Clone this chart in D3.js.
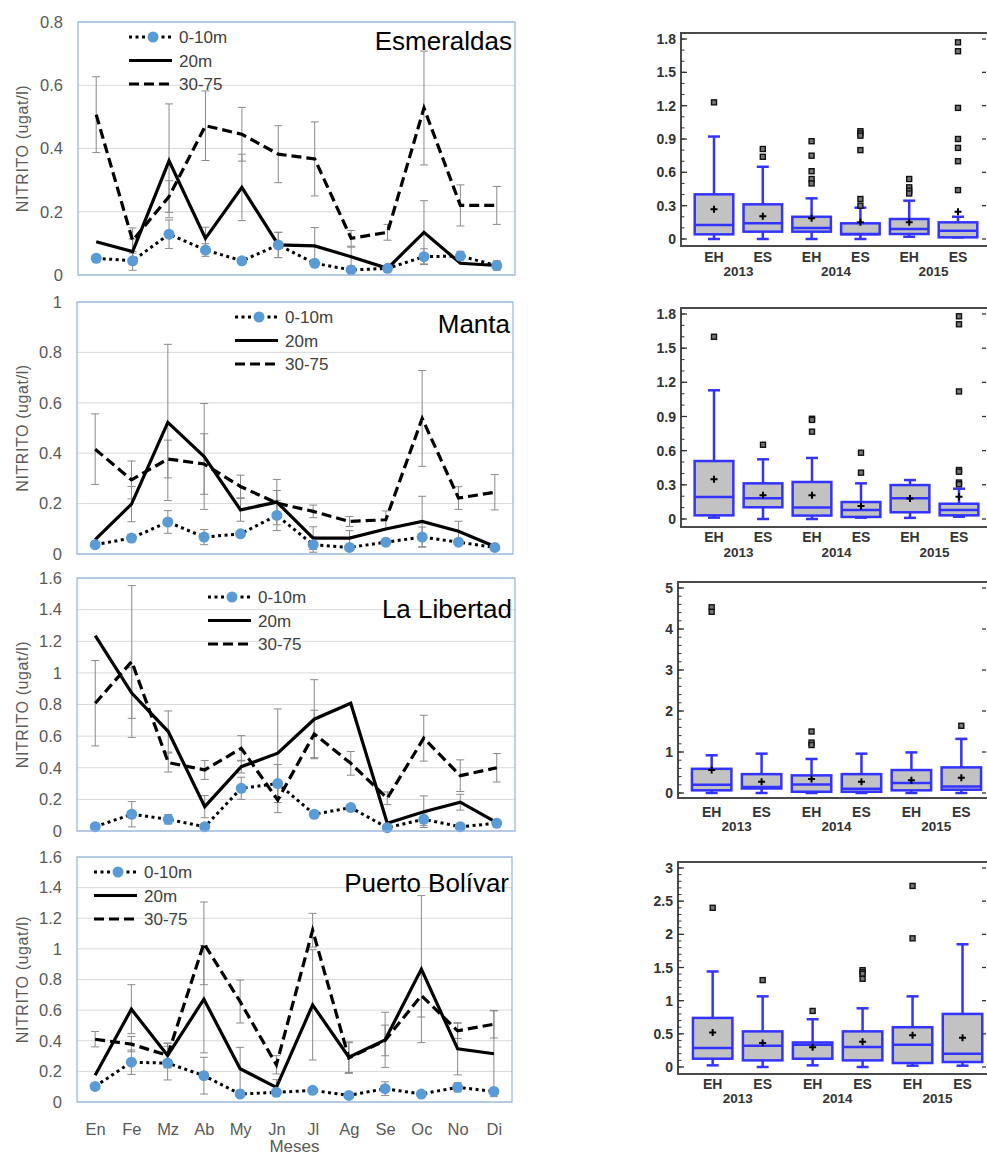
<!DOCTYPE html>
<html>
<head>
<meta charset="utf-8">
<script src="https://cdn.jsdelivr.net/npm/d3@7"></script>
<style>
body { margin: 0; background: #fff; }
svg text { font-family: "Liberation Sans", Arial, sans-serif; }
</style>
</head>
<body>
<div id="chart"></div>
<script>
// months and series names
var months = ["En", "Fe", "Mz", "Ab", "My", "Jn", "Jl", "Ag", "Se", "Oc", "No", "Di"];
var seriesNames = ["0-10m", "20m", "30-75"];
var stationNames = ["Esmeraldas", "Manta", "La Libertad", "Puerto Bolívar"];

// Esmeraldas
var esmSurf = [0.053, 0.045, 0.129, 0.079, 0.045, 0.095, 0.037, 0.016, 0.021, 0.058, 0.060, 0.030];
var esmSurfSd = [0.005, 0.03, 0.045, 0.02, 0.005, 0.04, 0.01, 0.005, 0.005, 0.025, 0.015, 0.015];
var esmMid = [0.105, 0.074, 0.361, 0.116, 0.277, 0.095, 0.092, 0.058, 0.021, 0.135, 0.037, 0.030];
var esmMidSd = [0, 0.04, 0.18, 0.035, 0.105, 0.04, 0.058, 0.03, 0, 0.1, 0, 0];
var esmDeep = [0.507, 0.109, 0.248, 0.472, 0.445, 0.382, 0.367, 0.116, 0.135, 0.528, 0.220, 0.220];
var esmDeepSd = [0.12, 0.04, 0.05, 0.11, 0.085, 0.09, 0.117, 0.025, 0.025, 0.18, 0.065, 0.06];

// Manta
var manSurf = [0.037, 0.063, 0.127, 0.067, 0.080, 0.153, 0.037, 0.026, 0.047, 0.067, 0.047, 0.026];
var manSurfSd = [0.005, 0.015, 0.045, 0.03, 0.005, 0.06, 0.03, 0.005, 0.015, 0.04, 0.005, 0.005];
var manMid = [0.057, 0.198, 0.522, 0.387, 0.175, 0.206, 0.063, 0.063, 0.099, 0.129, 0.090, 0.030];
var manMidSd = [0, 0.07, 0.31, 0.21, 0.045, 0.09, 0.045, 0.03, 0, 0.1, 0.04, 0];
var manDeep = [0.416, 0.294, 0.377, 0.357, 0.268, 0.202, 0.169, 0.129, 0.136, 0.538, 0.222, 0.245];
var manDeepSd = [0.14, 0.075, 0.075, 0.12, 0.045, 0.05, 0.025, 0.02, 0.035, 0.19, 0.045, 0.07];

// La Libertad
var libSurf = [0.027, 0.106, 0.074, 0.027, 0.270, 0.300, 0.106, 0.148, 0.021, 0.074, 0.027, 0.049];
var libSurfSd = [0.005, 0.08, 0.03, 0.005, 0.07, 0.12, 0.01, 0.01, 0.005, 0.04, 0.005, 0.01];
var libMid = [1.235, 0.872, 0.629, 0.154, 0.407, 0.492, 0.707, 0.808, 0.049, 0.122, 0.182, 0.053];
var libMidSd = [0, 0.16, 0.13, 0.07, 0.04, 0.28, 0.25, 0, 0, 0.1, 0.05, 0];
var libDeep = [0.808, 1.072, 0.433, 0.386, 0.523, 0.196, 0.614, 0.428, 0.207, 0.587, 0.350, 0.400];
var libDeepSd = [0.27, 0.48, 0.06, 0.06, 0.08, 0.08, 0.15, 0.075, 0.04, 0.145, 0.1, 0.09];

// Puerto Bolivar
var pboSurf = [0.102, 0.260, 0.254, 0.172, 0.052, 0.063, 0.076, 0.043, 0.087, 0.052, 0.096, 0.069];
var pboSurfSd = [0.005, 0.08, 0.11, 0.12, 0.01, 0.01, 0.01, 0.01, 0.045, 0.01, 0.03, 0.01];
var pboMid = [0.174, 0.606, 0.304, 0.671, 0.217, 0.096, 0.634, 0.293, 0.406, 0.868, 0.347, 0.315];
var pboMidSd = [0, 0.16, 0.08, 0.35, 0.14, 0.05, 0.36, 0.1, 0.18, 0.48, 0.17, 0.28];
var pboDeep = [0.410, 0.378, 0.304, 1.036, 0.656, 0.243, 1.122, 0.287, 0.402, 0.695, 0.465, 0.508];
var pboDeepSd = [0.05, 0.05, 0.08, 0.27, 0.14, 0.06, 0.11, 0.1, 0.1, 0.14, 0.05, 0.09];

// box plots: [low whisker, q1, median, q3, high whisker, mean]
var boxCats = ["EH", "ES", "EH", "ES", "EH", "ES"];
var boxYears = ["2013", "2014", "2015"];

var esmBox = [[0, 0.042, 0.126, 0.402, 0.922, 0.267], [0, 0.066, 0.141, 0.312, 0.65, 0.204],
  [0, 0.066, 0.10, 0.20, 0.366, 0.186], [0, 0.042, 0.045, 0.141, 0.282, 0.15],
  [0.02, 0.045, 0.09, 0.18, 0.345, 0.15], [0.015, 0.015, 0.075, 0.15, 0.2, 0.246]];
var esmOut = [[1.23], [0.81, 0.74], [0.88, 0.75, 0.61, 0.54, 0.5], [0.97, 0.95, 0.93, 0.8, 0.36, 0.3],
  [0.54, 0.465, 0.435, 0.41], [1.77, 1.69, 1.18, 0.9, 0.82, 0.7, 0.44]];

var manBox = [[0.012, 0.032, 0.193, 0.509, 1.13, 0.349], [0, 0.103, 0.182, 0.313, 0.524, 0.208],
  [0, 0.03, 0.1, 0.325, 0.536, 0.208], [0.012, 0.018, 0.079, 0.149, 0.313, 0.114],
  [0.01, 0.059, 0.182, 0.298, 0.342, 0.18], [0.02, 0.032, 0.079, 0.134, 0.266, 0.196]];
var manOut = [[1.6], [0.652], [0.88, 0.87, 0.767], [0.582, 0.407], [], [1.78, 1.71, 1.12, 0.43, 0.415, 0.32, 0.305]];

var libBox = [[0, 0.065, 0.2, 0.59, 0.92, 0.56], [0, 0.11, 0.145, 0.46, 0.96, 0.275],
  [0, 0.03, 0.21, 0.43, 0.83, 0.34], [0, 0.03, 0.105, 0.46, 0.96, 0.275],
  [0, 0.065, 0.244, 0.56, 0.99, 0.31], [0, 0.08, 0.16, 0.625, 1.32, 0.37]];
var libOut = [[4.53, 4.42], [], [1.5, 1.23, 1.17], [], [], [1.64]];

var pboBox = [[0.025, 0.125, 0.287, 0.74, 1.44, 0.52], [0, 0.1, 0.32, 0.537, 1.065, 0.36],
  [0.025, 0.125, 0.336, 0.37, 0.72, 0.296], [0, 0.1, 0.3, 0.537, 0.885, 0.38],
  [0.02, 0.06, 0.336, 0.6, 1.065, 0.477], [0.02, 0.075, 0.2, 0.8, 1.85, 0.44]];
var pboOut = [[2.4], [1.31], [0.845], [1.46, 1.43, 1.405, 1.33], [2.73, 1.94], []];

var stations = [
  {surf: esmSurf, surfSd: esmSurfSd, mid: esmMid, midSd: esmMidSd, deep: esmDeep, deepSd: esmDeepSd, box: esmBox, out: esmOut},
  {surf: manSurf, surfSd: manSurfSd, mid: manMid, midSd: manMidSd, deep: manDeep, deepSd: manDeepSd, box: manBox, out: manOut},
  {surf: libSurf, surfSd: libSurfSd, mid: libMid, midSd: libMidSd, deep: libDeep, deepSd: libDeepSd, box: libBox, out: libOut},
  {surf: pboSurf, surfSd: pboSurfSd, mid: pboMid, midSd: pboMidSd, deep: pboDeep, deepSd: pboDeepSd, box: pboBox, out: pboOut}
];

// layout of each row (line panel + box panel)
var layout = [
  {top: 22, bottom: 275, left: 78, right: 515, yMax: 0.8, legX: 129, legY: 37, titleY: 50,
   bTop: 33, bBottom: 246, bLeft: 681, bxL: 689.6, bxR: 982.4, bMax: 1.8, bStep: 0.3, bMinor: 0.1, bY0: 239, bY1: 39, labY: 262, yearY: 276},
  {top: 302, bottom: 554, left: 77, right: 513, yMax: 1, legX: 235, legY: 317, titleY: 333,
   bTop: 308, bBottom: 527, bLeft: 681, bxL: 689.5, bxR: 983.5, bMax: 1.8, bStep: 0.3, bMinor: 0.1, bY0: 519, bY1: 314, labY: 542, yearY: 557},
  {top: 578, bottom: 831, left: 77, right: 515, yMax: 1.6, legX: 208, legY: 597, titleY: 618,
   bTop: 582, bBottom: 798, bLeft: 678, bxL: 686.7, bxR: 986.3, bMax: 5, bStep: 1, bMinor: 0.2, bY0: 793, bY1: 588, labY: 817, yearY: 831},
  {top: 857, bottom: 1102, left: 77, right: 512, yMax: 1.6, legX: 94, legY: 872, titleY: 892,
   bTop: 862, bBottom: 1074, bLeft: 678, bxL: 687.7, bxR: 987.5, bMax: 3, bStep: 0.5, bMinor: 0.1, bY0: 1067, bY1: 868, labY: 1089, yearY: 1103}
];

var w = 987, h = 1158;
var blue = "#5b9bd5";
var boxBlue = "#3333ff";
var fmt = d3.format("~f");

var svg = d3.select("#chart").append("svg")
  .attr("width", w).attr("height", h);

//Line style of each series
var styles = [
  {key: "surf", dash: "3,3.5", width: 3},
  {key: "mid", dash: null, width: 3.2},
  {key: "deep", dash: "10,5", width: 3.2}
];

stations.forEach(function(st, k){
  var L = layout[k];
  var g = svg.append("g");

  var x = d3.scalePoint().domain(months).range([L.left, L.right]).padding(0.5);
  var y = d3.scaleLinear().domain([0, L.yMax]).range([L.bottom, L.top]);
  var ticks = d3.range(0, L.yMax + 0.001, 0.2);

  //gridlines
  g.selectAll(".grid").data(ticks).enter().append("line")
    .attr("x1", L.left).attr("x2", L.right)
    .attr("y1", function(d){ return y(d); })
    .attr("y2", function(d){ return y(d); })
    .attr("stroke", "#d9d9d9").attr("stroke-width", 1);

  //y axis
  var yAxis = g.append("g")
    .attr("transform", "translate(" + L.left + ",0)")
    .call(d3.axisLeft(y).tickValues(ticks).tickSize(0).tickPadding(15).tickFormat(fmt));
  yAxis.select(".domain").remove();
  yAxis.selectAll("text").attr("font-size", 16.5).attr("fill", "#595959")
    .style("font-family", "'Liberation Sans', Arial, sans-serif");

  g.append("text")
    .attr("transform", "translate(28," + ((L.top + L.bottom) / 2) + ") rotate(-90)")
    .attr("text-anchor", "middle")
    .attr("font-size", 16).attr("letter-spacing", 0.6).attr("fill", "#595959")
    .text("NITRITO (ugat/l)");

  //error bars
  styles.forEach(function(s){
    var vals = st[s.key], sd = st[s.key + "Sd"];
    var eb = g.append("g").attr("stroke", "#8a8a8a").attr("stroke-width", 1);
    vals.forEach(function(v, i){
      if (!sd[i]) return;
      var cx = x(months[i]);
      eb.append("line").attr("x1", cx).attr("x2", cx).attr("y1", y(v - sd[i])).attr("y2", y(v + sd[i]));
      eb.append("line").attr("x1", cx - 4).attr("x2", cx + 4).attr("y1", y(v - sd[i])).attr("y2", y(v - sd[i]));
      eb.append("line").attr("x1", cx - 4).attr("x2", cx + 4).attr("y1", y(v + sd[i])).attr("y2", y(v + sd[i]));
    });
  });

  //lines
  var line = d3.line()
    .x(function(d, i){ return x(months[i]); })
    .y(function(d){ return y(d); });

  styles.slice().reverse().forEach(function(s){
    g.append("path")
      .datum(st[s.key])
      .attr("d", line)
      .attr("fill", "none")
      .attr("stroke", "#000")
      .attr("stroke-width", s.width)
      .attr("stroke-dasharray", s.dash);
  });

  g.selectAll(".dot").data(st.surf).enter().append("circle")
    .attr("cx", function(d, i){ return x(months[i]); })
    .attr("cy", function(d){ return y(d); })
    .attr("r", 5.5)
    .attr("fill", blue);

  //plot border
  g.append("rect")
    .attr("x", L.left).attr("y", L.top)
    .attr("width", L.right - L.left).attr("height", L.bottom - L.top)
    .attr("fill", "none").attr("stroke", "#8fb4e0").attr("stroke-width", 1.2);

  //legend
  styles.forEach(function(s, j){
    var ly = L.legY + j * 23.5;
    g.append("line")
      .attr("x1", L.legX).attr("x2", L.legX + 43)
      .attr("y1", ly).attr("y2", ly)
      .attr("stroke", "#000").attr("stroke-width", s.width)
      .attr("stroke-dasharray", s.dash);
    if (j === 0) {
      g.append("circle").attr("cx", L.legX + 24).attr("cy", ly).attr("r", 5.5).attr("fill", blue);
    }
    g.append("text")
      .attr("x", L.legX + 50).attr("y", ly + 6)
      .attr("font-size", 17).attr("fill", "#404040")
      .text(seriesNames[j]);
  });

  //station title
  g.append("text")
    .attr("x", L.right - 3).attr("y", L.titleY)
    .attr("text-anchor", "end")
    .attr("font-size", 26).attr("fill", "#000")
    .text(stationNames[k]);

  //month axis on the last panel only
  if (k === stations.length - 1) {
    var xAxis = g.append("g")
      .attr("transform", "translate(0," + L.bottom + ")")
      .call(d3.axisBottom(x).tickSize(0).tickPadding(21));
    xAxis.select(".domain").remove();
    xAxis.selectAll("text").attr("font-size", 16.5).attr("fill", "#595959")
      .style("font-family", "'Liberation Sans', Arial, sans-serif");
    g.append("text")
      .attr("x", (L.left + L.right) / 2).attr("y", L.bottom + 50)
      .attr("text-anchor", "middle")
      .attr("font-size", 17).attr("fill", "#595959")
      .text("Meses");
  }

  //box plot
  var b = svg.append("g");
  var bx = d3.scaleBand().domain(d3.range(boxCats.length)).range([L.bxL, L.bxR])
    .paddingInner(0.21).paddingOuter(0.105);
  var by = d3.scaleLinear().domain([0, L.bMax]).range([L.bY0, L.bY1]);
  var bw = bx.bandwidth();
  var major = d3.range(0, L.bMax + 0.001, L.bStep);
  var minor = d3.range(0, L.bMax + 0.001, L.bMinor);

  b.append("rect")
    .attr("x", L.bLeft).attr("y", L.bTop)
    .attr("width", 995 - L.bLeft).attr("height", L.bBottom - L.bTop)
    .attr("fill", "none").attr("stroke", "#4a4a4a").attr("stroke-width", 2);

  b.selectAll(".minor").data(minor).enter().append("line")
    .attr("x1", L.bLeft).attr("x2", L.bLeft + 3.5)
    .attr("y1", function(d){ return by(d); }).attr("y2", function(d){ return by(d); })
    .attr("stroke", "#333").attr("stroke-width", 1);
  b.selectAll(".major").data(major).enter().append("line")
    .attr("x1", L.bLeft).attr("x2", L.bLeft + 6)
    .attr("y1", function(d){ return by(d); }).attr("y2", function(d){ return by(d); })
    .attr("stroke", "#333").attr("stroke-width", 1.3);
  b.selectAll(".rmajor").data(major).enter().append("line")
    .attr("x1", 982).attr("x2", 986)
    .attr("y1", function(d){ return by(d); }).attr("y2", function(d){ return by(d); })
    .attr("stroke", "#333").attr("stroke-width", 1.3);
  b.selectAll(".blab").data(major).enter().append("text")
    .attr("x", L.bLeft - 5).attr("y", function(d){ return by(d); })
    .attr("dy", "0.36em").attr("text-anchor", "end")
    .attr("font-size", 14).attr("font-weight", "bold").attr("fill", "#333")
    .text(fmt);

  st.box.forEach(function(s, i){
    var x0 = bx(i), cx = x0 + bw / 2;
    var bg = b.append("g");
    bg.append("line").attr("x1", cx).attr("x2", cx).attr("y1", by(s[0])).attr("y2", by(s[1]))
      .attr("stroke", boxBlue).attr("stroke-width", 2.5);
    bg.append("line").attr("x1", cx).attr("x2", cx).attr("y1", by(s[3])).attr("y2", by(s[4]))
      .attr("stroke", boxBlue).attr("stroke-width", 2.5);
    [s[0], s[4]].forEach(function(v){
      bg.append("line").attr("x1", cx - 6).attr("x2", cx + 6).attr("y1", by(v)).attr("y2", by(v))
        .attr("stroke", boxBlue).attr("stroke-width", 2.5);
    });
    bg.append("rect")
      .attr("x", x0).attr("y", by(s[3]))
      .attr("width", bw).attr("height", Math.max(1, by(s[1]) - by(s[3])))
      .attr("fill", "#c2c2c2").attr("stroke", boxBlue).attr("stroke-width", 2.5);
    bg.append("line").attr("x1", x0).attr("x2", x0 + bw).attr("y1", by(s[2])).attr("y2", by(s[2]))
      .attr("stroke", boxBlue).attr("stroke-width", 2.5);
    //mean marker
    var my = by(s[5]);
    bg.append("path")
      .attr("d", "M" + (cx - 3.5) + "," + my + "H" + (cx + 3.5) + "M" + cx + "," + (my - 3.5) + "V" + (my + 3.5))
      .attr("stroke", "#000").attr("stroke-width", 2);
    //outliers
    bg.selectAll(".out").data(st.out[i]).enter().append("rect")
      .attr("x", cx - 2.5).attr("y", function(d){ return by(d) - 2.5; })
      .attr("width", 5).attr("height", 5)
      .attr("fill", "#777").attr("stroke", "#111").attr("stroke-width", 1.4);
    //category label
    b.append("text")
      .attr("x", cx).attr("y", L.labY)
      .attr("text-anchor", "middle")
      .attr("font-size", 14).attr("font-weight", "bold").attr("fill", "#333")
      .text(boxCats[i]);
  });

  boxYears.forEach(function(yr, j){
    var cx = (bx(2 * j) + bx(2 * j + 1) + bw) / 2;
    b.append("text")
      .attr("x", cx).attr("y", L.yearY)
      .attr("text-anchor", "middle")
      .attr("font-size", 13.5).attr("font-weight", "bold").attr("fill", "#333")
      .text(yr);
  });
});
</script>
</body>
</html>
